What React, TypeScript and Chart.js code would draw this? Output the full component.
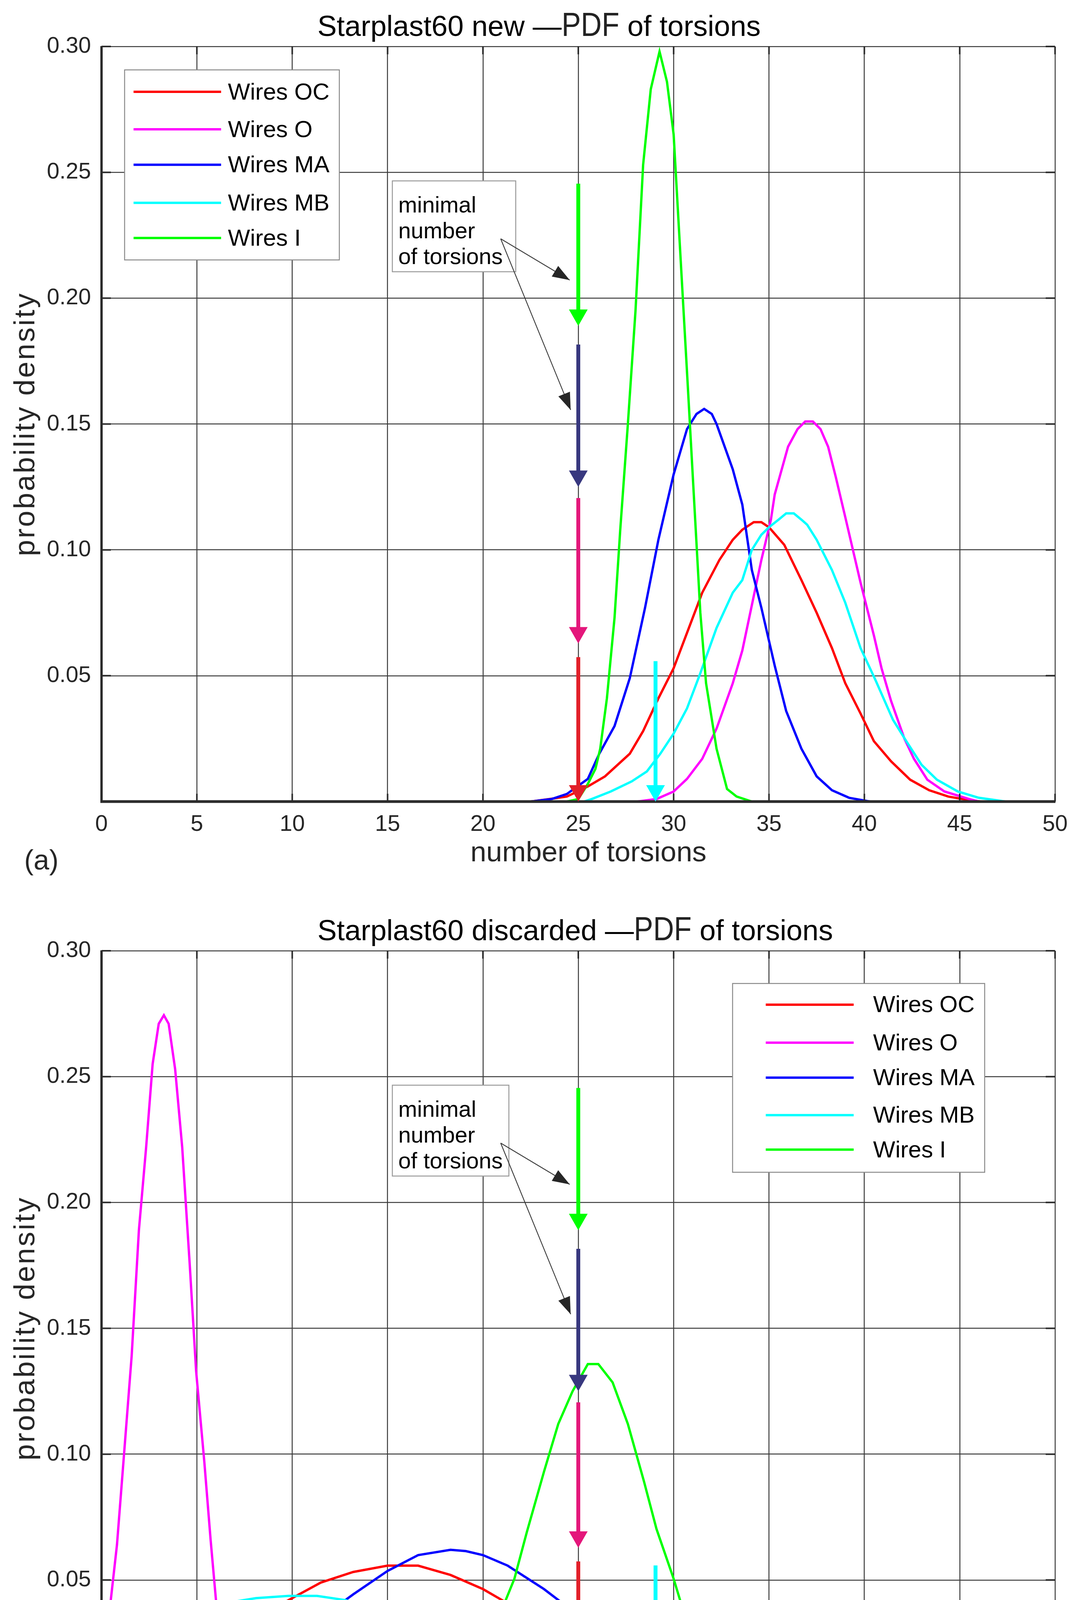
import React, { useEffect, useRef } from 'react';
import { Chart, registerables, Plugin } from 'chart.js';

Chart.register(...registerables);

// ---- data ----
const seriesNames = ['Wires OC', 'Wires O', 'Wires MA', 'Wires MB', 'Wires I'];

const xTickValues = [0, 5, 10, 15, 20, 25, 30, 35, 40, 45, 50];
const yTickValues = [0.05, 0.1, 0.15, 0.2, 0.25, 0.3];
const yTickLabels = ['0.05', '0.10', '0.15', '0.20', '0.25', '0.30'];

// (a) new
const newOcX = [22.5, 23.5, 24.4, 25.5, 26.4, 27.7, 28.4, 29.2, 30.0, 30.8, 31.5, 32.4, 33.1, 33.6, 34.2, 34.6, 35.0, 35.8, 36.7, 37.5, 38.3, 39.0, 39.8, 40.5, 41.4, 42.4, 43.4, 44.4, 45.3, 46.1];
const newOcY = [0, 0.001, 0.002, 0.006, 0.01, 0.019, 0.028, 0.041, 0.053, 0.069, 0.083, 0.096, 0.104, 0.108, 0.111, 0.111, 0.109, 0.102, 0.088, 0.075, 0.061, 0.047, 0.035, 0.024, 0.016, 0.0087, 0.0045, 0.002, 0.0008, 0];

const newOX = [28.1, 29.1, 30.0, 30.7, 31.5, 32.25, 33.1, 33.6, 34.1, 34.6, 35.1, 35.3, 36.0, 36.5, 36.9, 37.3, 37.7, 38.1, 38.5, 39.0, 39.8, 40.5, 40.9, 41.4, 42.1, 42.6, 43.3, 44.2, 45.5, 46.0];
const newOY = [0, 0.001, 0.004, 0.009, 0.017, 0.029, 0.047, 0.06, 0.078, 0.096, 0.112, 0.122, 0.141, 0.148, 0.151, 0.151, 0.148, 0.141, 0.129, 0.113, 0.087, 0.066, 0.053, 0.04, 0.025, 0.017, 0.0087, 0.004, 0.001, 0];

const newMaX = [22.5, 23.6, 24.4, 25.5, 26.1, 26.9, 27.7, 28.5, 29.2, 30.0, 30.7, 31.2, 31.6, 32.0, 32.25, 33.1, 33.6, 34.1, 34.6, 35.3, 35.9, 36.7, 37.5, 38.3, 39.2, 40.3];
const newMaY = [0, 0.001, 0.003, 0.009, 0.019, 0.03, 0.049, 0.077, 0.104, 0.13, 0.148, 0.154, 0.156, 0.154, 0.15, 0.132, 0.118, 0.092, 0.077, 0.054, 0.036, 0.021, 0.01, 0.0045, 0.0015, 0];

const newMbX = [25.3, 25.7, 26.7, 27.8, 28.6, 29.3, 30.0, 30.7, 31.4, 32.25, 33.1, 33.6, 34.1, 34.6, 35.0, 35.5, 35.9, 36.3, 36.7, 37.0, 37.5, 38.3, 39.0, 39.8, 40.6, 41.5, 42.2, 43.0, 43.8, 44.9, 46.0, 47.4];
const newMbY = [0, 0.001, 0.004, 0.008, 0.012, 0.019, 0.027, 0.037, 0.051, 0.069, 0.083, 0.088, 0.1, 0.106, 0.109, 0.112, 0.1145, 0.1145, 0.112, 0.11, 0.104, 0.092, 0.079, 0.061, 0.048, 0.0325, 0.024, 0.0146, 0.0087, 0.004, 0.0015, 0];

const newIX = [24.4, 25.0, 25.5, 25.9, 26.15, 26.5, 26.9, 27.2, 27.6, 28.0, 28.4, 28.8, 29.26, 29.65, 30.0, 30.4, 30.75, 31.1, 31.4, 31.7, 32.25, 32.8, 33.3, 34.1];
const newIY = [0, 0.001, 0.007, 0.013, 0.021, 0.041, 0.073, 0.108, 0.15, 0.195, 0.253, 0.283, 0.298, 0.286, 0.265, 0.211, 0.164, 0.116, 0.075, 0.047, 0.021, 0.005, 0.002, 0];

// (b) discarded
const discOcX = [0, 1.3, 3.0, 4.7, 6.4, 8.1, 10, 11.5, 13.2, 15, 16.6, 18.3, 20, 21.3, 23.2, 25, 27, 28.9, 30, 31.8, 33.7, 35.7, 37.6, 39.5];
const discOcY = [0.0058, 0.0083, 0.0131, 0.0187, 0.0266, 0.0349, 0.0428, 0.049, 0.0532, 0.0557, 0.0557, 0.052, 0.0464, 0.0407, 0.0328, 0.0235, 0.0162, 0.0104, 0.0083, 0.0054, 0.0033, 0.0017, 0.0006, 0];

const discOX = [0, 0.22, 0.47, 0.81, 1.15, 1.58, 1.96, 2.34, 2.68, 3.0, 3.27, 3.52, 3.86, 4.23, 4.62, 4.96, 5.39, 5.72, 6.06, 6.49, 6.91, 7.42, 8.0, 8.43];
const discOY = [0.0235, 0.031, 0.041, 0.064, 0.097, 0.139, 0.189, 0.222, 0.255, 0.271, 0.2744, 0.271, 0.253, 0.222, 0.176, 0.133, 0.097, 0.066, 0.037, 0.0225, 0.012, 0.0048, 0.0012, 0];

const discMaX = [0, 1.3, 3.0, 4.7, 6.4, 8.1, 10, 11.5, 13.2, 15, 16.6, 18.3, 19.1, 20, 21.3, 23.2, 25, 27, 28.9, 30, 31.8, 33.7, 35.7, 37.6, 38.5, 38.9];
const discMaY = [0.0012, 0.002, 0.0042, 0.0079, 0.0125, 0.0193, 0.0277, 0.0349, 0.0443, 0.0536, 0.0599, 0.062, 0.0615, 0.0599, 0.0557, 0.0464, 0.036, 0.0256, 0.0162, 0.0131, 0.0083, 0.0048, 0.0027, 0.0012, 0.0006, 0];

const discMbX = [0, 1.3, 3.0, 4.7, 6.4, 8.1, 9.8, 11.3, 12.8, 15, 16.6, 18.3, 20, 21.3, 23.2, 25, 27, 28.9, 30, 31.8, 33.7, 36.2, 38.5, 40];
const discMbY = [0.024, 0.0287, 0.034, 0.038, 0.0407, 0.0428, 0.0437, 0.0437, 0.042, 0.037, 0.033, 0.0287, 0.0245, 0.0214, 0.0162, 0.0125, 0.009, 0.006, 0.0048, 0.0033, 0.002, 0.001, 0.0005, 0];

const discIX = [15.9, 16.7, 17.75, 18.6, 19.44, 20, 20.63, 21.14, 21.65, 22.3, 23.2, 23.95, 24.7, 25.5, 26.05, 26.8, 27.6, 28.45, 29.1, 30, 30.66, 31.4, 32.4, 33.35, 34.7, 35.85, 36.6];
const discIY = [0, 0.001, 0.0027, 0.0069, 0.0141, 0.0204, 0.0308, 0.041, 0.0505, 0.069, 0.093, 0.112, 0.125, 0.1358, 0.1358, 0.1285, 0.112, 0.089, 0.0703, 0.0505, 0.0339, 0.0214, 0.011, 0.0058, 0.002, 0.0006, 0];

// ---- styling / layout ----
const W = 2771;
const AREA = { left: 260, top: 119, right: 2702, bottom: 2052 };
const FONT = '"Liberation Sans", Arial, Helvetica, sans-serif';
const seriesColors = ['#ff0000', '#ff00ff', '#0000ff', '#00ffff', '#00ff00'];

// "minimal number of torsions" markers, in data units
const markerX = 25;
const markerSegments = [
  { top: 0.2455, tip: 0.189, color: '#00ff00' },
  { top: 0.1816, tip: 0.125, color: '#38387f' },
  { top: 0.1206, tip: 0.0628, color: '#e4177b' },
  { top: 0.0574, tip: 0.0, color: '#e2202a' },
];
const mbMarker = { x: 29.05, top: 0.0558, tip: 0.0, color: '#00ffff' };
const noteLines = ['minimal', 'number', 'of torsions'];
const noteBaselines = [0.234, 0.2238, 0.2136];
const pointerFrom = { x: 20.93, y: 0.2236 };
const pointerTips = [
  { x: 24.55, y: 0.2072 },
  { x: 24.6, y: 0.1556 },
];

interface LegendSpot {
  x0: number; x1: number; y0: number; y1: number;
  lineX0: number; lineX1: number; textX: number; rows: number[];
}

interface PanelSpec {
  tag: string;
  height: number;
  offsetTop: number;
  name: string;
  label: string;
  series: { x: number[]; y: number[] }[];
  legend: LegendSpot;
  noteRight: number;
}

const panels: PanelSpec[] = [
  {
    tag: 'a',
    height: 2315,
    offsetTop: 0,
    name: 'Starplast60 new',
    label: '(a)',
    series: [
      { x: newOcX, y: newOcY },
      { x: newOX, y: newOY },
      { x: newMaX, y: newMaY },
      { x: newMbX, y: newMbY },
      { x: newIX, y: newIY },
    ],
    legend: {
      x0: 1.21, x1: 12.47, y0: 0.2907, y1: 0.2152,
      lineX0: 1.68, lineX1: 6.27, textX: 6.63,
      rows: [0.282, 0.2671, 0.253, 0.2379, 0.2239],
    },
    noteRight: 21.72,
  },
  {
    tag: 'b',
    height: 2267,
    offsetTop: 2315,
    name: 'Starplast60 discarded',
    label: '(b)',
    series: [
      { x: discOcX, y: discOcY },
      { x: discOX, y: discOY },
      { x: discMaX, y: discMaY },
      { x: discMbX, y: discMbY },
      { x: discIX, y: discIY },
    ],
    legend: {
      x0: 33.09, x1: 46.31, y0: 0.287, y1: 0.212,
      lineX0: 34.83, lineX1: 39.44, textX: 40.46,
      rows: [0.2786, 0.2635, 0.2496, 0.2347, 0.221],
    },
    noteRight: 21.36,
  },
];

function headTriangle(
  ctx: CanvasRenderingContext2D,
  fx: number, fy: number, tx: number, ty: number,
  len: number, half: number,
) {
  const ang = Math.atan2(ty - fy, tx - fx);
  const bx = tx - Math.cos(ang) * len;
  const by = ty - Math.sin(ang) * len;
  const nx = -Math.sin(ang) * half;
  const ny = Math.cos(ang) * half;
  ctx.beginPath();
  ctx.moveTo(tx, ty);
  ctx.lineTo(bx + nx, by + ny);
  ctx.lineTo(bx - nx, by - ny);
  ctx.closePath();
  ctx.fill();
}

function makeDecor(p: PanelSpec): Plugin<'line'> {
  return {
    id: 'decor' + p.tag,
    afterDatasetsDraw(chart) {
      const { ctx, chartArea: a } = chart;
      const xs = chart.scales.x;
      const ys = chart.scales.y;
      ctx.save();

      // axis frame and inward ticks
      ctx.strokeStyle = '#2b2b2b';
      ctx.lineWidth = 6;
      ctx.beginPath();
      ctx.moveTo(a.left, a.top - 1);
      ctx.lineTo(a.left, a.bottom + 3);
      ctx.stroke();
      ctx.lineWidth = 7;
      ctx.beginPath();
      ctx.moveTo(a.left - 3, a.bottom);
      ctx.lineTo(a.right + 1, a.bottom);
      ctx.stroke();
      ctx.lineWidth = 4;
      ctx.beginPath();
      xTickValues.forEach((v) => {
        const px = xs.getPixelForValue(v);
        ctx.moveTo(px, a.bottom);
        ctx.lineTo(px, a.bottom - 20);
        ctx.moveTo(px, a.top);
        ctx.lineTo(px, a.top + 20);
      });
      yTickValues.forEach((v) => {
        const py = ys.getPixelForValue(v);
        ctx.moveTo(a.left, py);
        ctx.lineTo(a.left + 24, py);
        ctx.moveTo(a.right, py);
        ctx.lineTo(a.right - 24, py);
      });
      ctx.stroke();

      // coloured markers
      const drawMarker = (x: number, top: number, tip: number, color: string) => {
        const px = xs.getPixelForValue(x);
        const pTop = ys.getPixelForValue(top);
        const pTip = ys.getPixelForValue(tip);
        ctx.strokeStyle = color;
        ctx.fillStyle = color;
        ctx.lineWidth = 10;
        ctx.beginPath();
        ctx.moveTo(px, pTop);
        ctx.lineTo(px, pTip - 30);
        ctx.stroke();
        ctx.beginPath();
        ctx.moveTo(px - 24, pTip - 42);
        ctx.lineTo(px + 24, pTip - 42);
        ctx.lineTo(px, pTip);
        ctx.closePath();
        ctx.fill();
      };
      markerSegments.forEach((s) => drawMarker(markerX, s.top, s.tip, s.color));
      drawMarker(mbMarker.x, mbMarker.top, mbMarker.tip, mbMarker.color);
      ctx.restore();
    },
    afterDraw(chart) {
      const { ctx, chartArea: a } = chart;
      const xs = chart.scales.x;
      const ys = chart.scales.y;
      const X = (v: number) => xs.getPixelForValue(v);
      const Y = (v: number) => ys.getPixelForValue(v);
      ctx.save();

      // note box
      const nx0 = X(15.25);
      const ny0 = Y(0.2466);
      const nx1 = X(p.noteRight);
      const ny1 = Y(0.2105);
      ctx.fillStyle = '#ffffff';
      ctx.fillRect(nx0, ny0, nx1 - nx0, ny1 - ny0);
      ctx.strokeStyle = '#9a9a9a';
      ctx.lineWidth = 2.5;
      ctx.strokeRect(nx0, ny0, nx1 - nx0, ny1 - ny0);
      ctx.fillStyle = '#000000';
      ctx.font = `58px ${FONT}`;
      ctx.textAlign = 'left';
      ctx.textBaseline = 'alphabetic';
      noteLines.forEach((t, i) => ctx.fillText(t, X(15.56), Y(noteBaselines[i])));

      // pointer lines
      ctx.strokeStyle = '#3a3a3a';
      ctx.fillStyle = '#262626';
      ctx.lineWidth = 2.2;
      const fx = X(pointerFrom.x);
      const fy = Y(pointerFrom.y);
      pointerTips.forEach((t) => {
        const tx = X(t.x);
        const ty = Y(t.y);
        ctx.beginPath();
        ctx.moveTo(fx, fy);
        ctx.lineTo(tx, ty);
        ctx.stroke();
        headTriangle(ctx, fx, fy, tx, ty, 44, 16);
      });

      // legend
      const L = p.legend;
      const lx0 = X(L.x0);
      const ly0 = Y(L.y0);
      const lx1 = X(L.x1);
      const ly1 = Y(L.y1);
      ctx.fillStyle = '#ffffff';
      ctx.fillRect(lx0, ly0, lx1 - lx0, ly1 - ly0);
      ctx.strokeStyle = '#8a8a8a';
      ctx.lineWidth = 2.5;
      ctx.strokeRect(lx0, ly0, lx1 - lx0, ly1 - ly0);
      ctx.font = `60px ${FONT}`;
      ctx.textBaseline = 'middle';
      seriesNames.forEach((name, i) => {
        const ry = Y(L.rows[i]);
        ctx.strokeStyle = seriesColors[i];
        ctx.lineWidth = 6;
        ctx.beginPath();
        ctx.moveTo(X(L.lineX0), ry);
        ctx.lineTo(X(L.lineX1), ry);
        ctx.stroke();
        ctx.fillStyle = '#000000';
        ctx.fillText(name, X(L.textX), ry + 3);
      });

      // title
      ctx.textBaseline = 'alphabetic';
      ctx.fillStyle = '#000000';
      let tx = 813;
      const ty = 92;
      ctx.font = `74px ${FONT}`;
      const head = p.name + ' \u2014';
      ctx.fillText(head, tx, ty);
      tx += ctx.measureText(head).width;
      ctx.save();
      ctx.font = `86px ${FONT}`;
      ctx.fillStyle = '#222222';
      ctx.translate(tx, ty);
      ctx.scale(0.86, 1);
      ctx.fillText('PDF', 0, 0);
      const pdfW = ctx.measureText('PDF').width * 0.86;
      ctx.restore();
      tx += pdfW;
      ctx.font = `74px ${FONT}`;
      ctx.fillText(' of torsions', tx, ty);

      // axis titles
      ctx.fillStyle = '#262626';
      ctx.font = `73px ${FONT}`;
      ctx.textAlign = 'center';
      ctx.fillText('number of torsions', (a.left + a.right) / 2 + 26, 2205);
      ctx.save();
      ctx.translate(88, (a.top + a.bottom) / 2);
      ctx.rotate(-Math.PI / 2);
      ctx.font = `75px ${FONT}`;
      (ctx as any).letterSpacing = '4px';
      ctx.fillText('probability density', 0, 0);
      ctx.restore();

      // panel label
      ctx.textAlign = 'left';
      ctx.font = `72px ${FONT}`;
      ctx.fillStyle = '#262626';
      ctx.fillText(p.label, 62, 2226);
      ctx.restore();
    },
  };
}

const PdfPanel: React.FC<{ spec: PanelSpec }> = ({ spec }) => {
  const canvasRef = useRef<HTMLCanvasElement>(null);
  const chartRef = useRef<Chart | null>(null);

  useEffect(() => {
    if (!canvasRef.current) return;
    if (chartRef.current) chartRef.current.destroy();

    const tickFont = { family: FONT, size: 58 };
    const gridStyle = { color: '#3c3c3c', lineWidth: 2.5, drawTicks: false };

    chartRef.current = new Chart(canvasRef.current, {
      type: 'line',
      data: {
        datasets: spec.series.map((s, i) => ({
          label: seriesNames[i],
          data: s.x.map((x, k) => ({ x, y: s.y[k] })),
          borderColor: seriesColors[i],
          backgroundColor: seriesColors[i],
          borderWidth: 6,
          pointRadius: 0,
          tension: 0,
          fill: false,
          order: seriesNames.length - 1 - i,
        })),
      },
      options: {
        responsive: false,
        animation: false,
        devicePixelRatio: 1,
        layout: {
          padding: { left: 0, top: AREA.top, right: W - AREA.right, bottom: 0 },
        },
        plugins: {
          legend: { display: false },
          tooltip: { enabled: false },
          title: { display: false },
        },
        scales: {
          x: {
            type: 'linear',
            min: 0,
            max: 50,
            afterFit: (s: any) => {
              s.height = spec.height - AREA.bottom;
            },
            grid: gridStyle,
            border: { display: false },
            ticks: {
              stepSize: 5,
              autoSkip: false,
              maxRotation: 0,
              padding: 24,
              color: '#262626',
              font: tickFont,
            },
          },
          y: {
            type: 'linear',
            min: 0,
            max: 0.3,
            afterFit: (s: any) => {
              s.width = AREA.left;
            },
            grid: gridStyle,
            border: { display: false },
            ticks: {
              stepSize: 0.05,
              padding: 27,
              color: '#262626',
              font: tickFont,
              callback: (v: any) => {
                const idx = yTickValues.findIndex((t) => Math.abs(t - Number(v)) < 1e-6);
                return idx >= 0 ? yTickLabels[idx] : '';
              },
            },
          },
        },
      },
      plugins: [makeDecor(spec)],
    });

    return () => {
      if (chartRef.current) {
        chartRef.current.destroy();
        chartRef.current = null;
      }
    };
  }, [spec]);

  return (
    <div style={{ position: 'absolute', left: 0, top: spec.offsetTop, width: W, height: spec.height }}>
      <canvas
        ref={canvasRef}
        width={W}
        height={spec.height}
        style={{ width: W, height: spec.height, display: 'block' }}
      />
    </div>
  );
};

export default function App() {
  return (
    <div style={{ position: 'absolute', left: 0, top: 0, width: W, height: 4582, background: '#ffffff', overflow: 'hidden' }}>
      {panels.map((p) => (
        <PdfPanel key={p.tag} spec={p} />
      ))}
    </div>
  );
}
